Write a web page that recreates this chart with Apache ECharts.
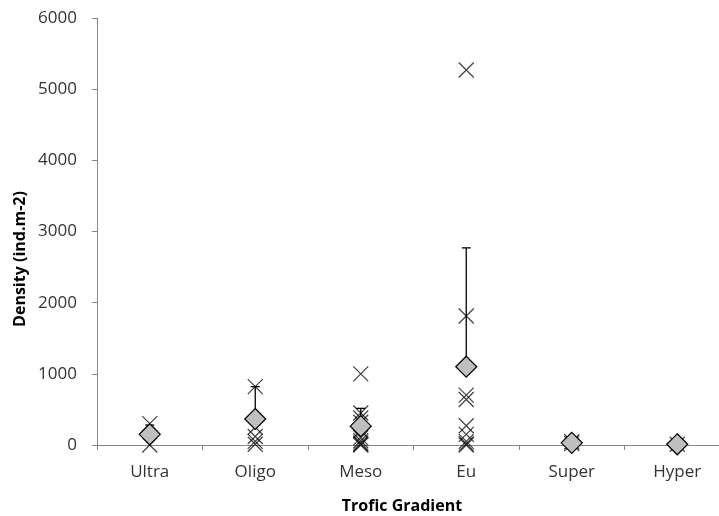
<!DOCTYPE html>
<html><head><meta charset="utf-8">
<script src="https://cdn.jsdelivr.net/npm/echarts@6/dist/echarts.min.js"></script>
<style>html,body{margin:0;padding:0;background:#fff;overflow:hidden}#c{width:719px;height:516px}</style>
</head><body><div id="c"></div>
<script>
var categories = ['Ultra','Oligo','Meso','Eu','Super','Hyper'];
var yTicks = [0,1000,2000,3000,4000,5000,6000];
// individual observations (X markers) per category
var obsUltra = [300, 0];
var obsOligo = [820, 250, 120, 50, 10];
var obsMeso = [1000, 450, 380, 320, 200, 100, 60, 30, 10, 0];
var obsEu = [5270, 1812, 700, 640, 270, 150, 50, 20, 0];
var obsSuper = [45, 20];
var obsHyper = [10];
// means (diamonds) and upper error-bar ends
var means = [150, 365, 265, 1100, 30, 10];
var upper = [280, 820, 515, 2770, 45, 15];

var obsAll = [obsUltra, obsOligo, obsMeso, obsEu, obsSuper, obsHyper];
var xData = [];
obsAll.forEach(function(arr, i){ arr.forEach(function(v){ xData.push([i, v]); }); });
var meanData = means.map(function(v, i){ return [i, v]; });
var errData = means.map(function(v, i){ return [i, v, upper[i]]; });

var font = '"Open Sans", sans-serif';
var chart = echarts.init(document.getElementById('c'), null, {renderer:'canvas'});
chart.setOption({
  animation: false,
  grid: {left: 97, width: 633, top: 18, height: 427, containLabel: false, outerBoundsMode: 'none'},
  graphic: [
    {type: 'text', style: {text: 'Trofic Gradient', x: 402, y: 506, align: 'center', verticalAlign: 'middle',
      font: 'bold 16px ' + font, fill: '#000'}},
    {type: 'text', x: 20, y: 259, rotation: Math.PI / 2, style: {text: 'Density (ind.m-2)', x: 0, y: 0, align: 'center', verticalAlign: 'middle',
      font: 'bold 16px ' + font, fill: '#000'}}
  ],
  xAxis: {
    type: 'category', data: categories, boundaryGap: true,
    axisLine: {lineStyle: {color: '#868686', width: 1}},
    axisTick: {show: true, length: 5, lineStyle: {color: '#868686'}},
    axisLabel: {fontFamily: font, fontSize: 17, color: '#333', margin: 19},
    splitLine: {show: false}
  },
  yAxis: {
    type: 'value', min: 0, max: 6000, interval: 1000,
    axisLine: {show: true, lineStyle: {color: '#868686', width: 1}},
    axisTick: {show: true, length: 5, lineStyle: {color: '#868686'}},
    axisLabel: {fontFamily: font, fontSize: 17, color: '#333', margin: 20,
      formatter: function(v){ return yTicks.indexOf(v) >= 0 ? String(v) : ''; }},
    splitLine: {show: false}
  },
  series: [
    {
      type: 'scatter', data: xData, z: 2,
      symbol: 'path://M0,0L10,10M10,0L0,10', symbolSize: 15,
      itemStyle: {color: 'rgba(0,0,0,0)', borderColor: '#111', borderWidth: 1.2}
    },
    {
      type: 'custom', data: errData, z: 3,
      renderItem: function(params, api){
        var x = api.value(0);
        var p0 = api.coord([x, api.value(1)]);
        var p1 = api.coord([x, api.value(2)]);
        return {type: 'group', children: [
          {type: 'line', shape: {x1: p0[0], y1: p0[1], x2: p1[0], y2: p1[1]}, style: {stroke: '#000', lineWidth: 1.3}},
          {type: 'line', shape: {x1: p1[0]-4.5, y1: p1[1], x2: p1[0]+4.5, y2: p1[1]}, style: {stroke: '#000', lineWidth: 1.3}}
        ]};
      }
    },
    {
      type: 'scatter', data: meanData, z: 4,
      symbol: 'diamond', symbolSize: [21, 21],
      itemStyle: {color: '#bfbfbf', borderColor: '#000', borderWidth: 1.2, opacity: 1}
    }
  ]
});
</script></body></html>
